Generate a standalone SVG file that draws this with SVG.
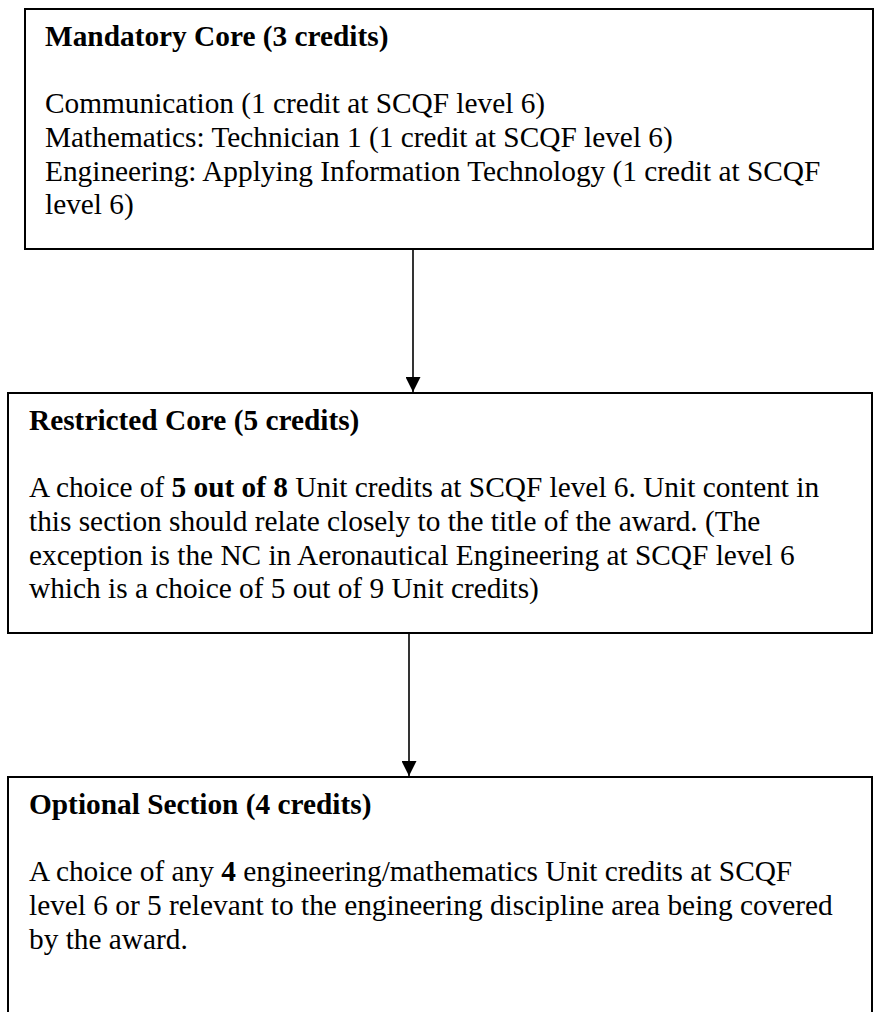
<svg xmlns="http://www.w3.org/2000/svg" width="874" height="1012" viewBox="0 0 874 1012">
<style>
.box{fill:#fff;stroke:#000;stroke-width:2}
.t{font-family:"Liberation Serif","Times New Roman",serif;font-size:29.33px;fill:#000}
.b{font-weight:bold}
.conn{stroke:#000;stroke-width:1.6;fill:none}
</style>
<defs>
<marker id="arr" markerWidth="15" markerHeight="15" refX="15" refY="7.5" orient="auto" markerUnits="userSpaceOnUse">
<path d="M0,0 L15,7.5 L0,15 Z" fill="#000"/>
</marker>
</defs>
<rect width="874" height="1012" fill="#fff"/>
<g id="connectors">
<line class="conn" x1="413" y1="249" x2="413" y2="392" marker-end="url(#arr)"/>
<line class="conn" x1="409" y1="633" x2="409" y2="776" marker-end="url(#arr)"/>
</g>
<g id="mandatory-core">
<rect class="box" x="25" y="9" width="848" height="240"/>
<text class="t b" x="45" y="46">Mandatory Core (3 credits)</text>
<text class="t" x="45" y="113">Communication (1 credit at SCQF level 6)</text>
<text class="t" x="45" y="147">Mathematics: Technician 1 (1 credit at SCQF level 6)</text>
<text class="t" x="45" y="181">Engineering: Applying Information Technology (1 credit at SCQF</text>
<text class="t" x="45" y="214">level 6)</text>
</g>
<g id="restricted-core">
<rect class="box" x="8" y="393" width="864" height="240"/>
<text class="t b" x="29" y="430">Restricted Core (5 credits)</text>
<text class="t" x="29" y="497">A choice of <tspan class="b">5 out of 8</tspan> Unit credits at SCQF level 6. Unit content in</text>
<text class="t" x="29" y="531">this section should relate closely to the title of the award. (The</text>
<text class="t" x="29" y="565">exception is the NC in Aeronautical Engineering at SCQF level 6</text>
<text class="t" x="29" y="598">which is a choice of 5 out of 9 Unit credits)</text>
</g>
<g id="optional-section">
<rect class="box" x="8" y="777" width="864" height="250"/>
<text class="t b" x="29" y="814">Optional Section (4 credits)</text>
<text class="t" x="29" y="881">A choice of any <tspan class="b">4</tspan> engineering/mathematics Unit credits at SCQF</text>
<text class="t" x="29" y="915">level 6 or 5 relevant to the engineering discipline area being covered</text>
<text class="t" x="29" y="949">by the award.</text>
</g>
</svg>
